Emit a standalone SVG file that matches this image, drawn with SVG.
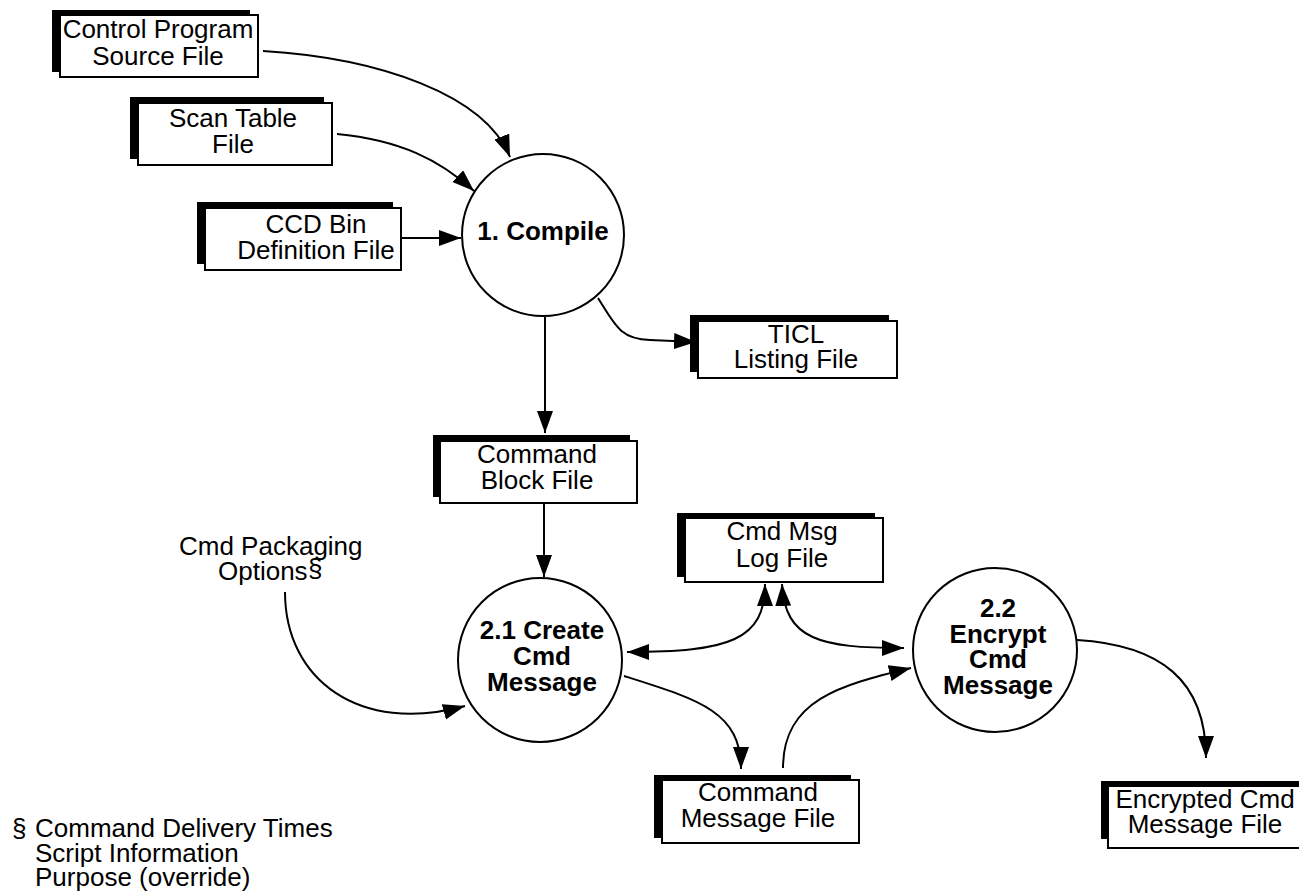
<svg xmlns="http://www.w3.org/2000/svg" width="1299" height="896" viewBox="0 0 1299 896">
<style>
  text { font-family: "Liberation Sans", Arial, sans-serif; font-size: 26px; fill: #000; }
  .c { text-anchor: middle; }
  .b { font-weight: bold; }
  .shadow { fill: #000; stroke: none; }
  .front { fill: #fff; stroke: #000; stroke-width: 2; }
  .proc { fill: #fff; stroke: #000; stroke-width: 2; }
  .flow { fill: none; stroke: #000; stroke-width: 2; }
</style>
<defs>
  <marker id="arr" markerUnits="userSpaceOnUse" markerWidth="24" markerHeight="18" refX="22" refY="8" orient="auto-start-reverse">
    <path d="M0,0 L22,8 L0,16 z" fill="#000"/>
  </marker>
</defs>
<rect width="1299" height="896" fill="#fff"/>

<g id="connectors">
  <path class="flow" d="M263,51 C380,58 485,95 510,157" marker-end="url(#arr)"/>
  <path class="flow" d="M337,134 C400,140 440,160 474,191" marker-end="url(#arr)"/>
  <path class="flow" d="M401,238 L461,238" marker-end="url(#arr)"/>
  <path class="flow" d="M598,298 C615,325 620,339 650,340 L696,342" marker-end="url(#arr)"/>
  <path class="flow" d="M545,317 L545,433" marker-end="url(#arr)"/>
  <path class="flow" d="M544,504 L544,577" marker-end="url(#arr)"/>
  <path class="flow" d="M285,592 C285,680 360,735 465,706" marker-end="url(#arr)"/>
  <path class="flow" d="M627,652 C730,652 765,640 765,584" marker-start="url(#arr)" marker-end="url(#arr)"/>
  <path class="flow" d="M782,584 C785,640 820,648 904,648" marker-start="url(#arr)" marker-end="url(#arr)"/>
  <path class="flow" d="M624,676 C700,700 741,712 741,769" marker-end="url(#arr)"/>
  <path class="flow" d="M783,768 C783,700 840,685 911,668" marker-end="url(#arr)"/>
  <path class="flow" d="M1077,640 C1160,645 1206,680 1206,758" marker-end="url(#arr)"/>
</g>

<g id="control-program-source-file">
  <rect class="shadow" x="52" y="10" width="198" height="62"/>
  <rect class="front" x="60" y="15" width="198" height="62"/>
  <text class="c" x="158" y="38">Control Program</text>
  <text class="c" x="158" y="65">Source File</text>
</g>

<g id="scan-table-file">
  <rect class="shadow" x="130" y="97" width="194" height="62"/>
  <rect class="front" x="138" y="103" width="194" height="62"/>
  <text class="c" x="233" y="127">Scan Table</text>
  <text class="c" x="233" y="153">File</text>
</g>

<g id="ccd-bin-definition-file">
  <rect class="shadow" x="197" y="202" width="196" height="62"/>
  <rect class="front" x="205" y="208" width="196" height="62"/>
  <text class="c" x="316" y="233">CCD Bin</text>
  <text class="c" x="316" y="259">Definition File</text>
</g>

<g id="compile">
  <circle class="proc" cx="543" cy="235" r="81"/>
  <text class="c b" x="543" y="240">1. Compile</text>
</g>

<g id="ticl-listing-file">
  <rect class="shadow" x="690" y="315" width="199" height="57"/>
  <rect class="front" x="698" y="321" width="199" height="57"/>
  <text class="c" x="796" y="343">TICL</text>
  <text class="c" x="796" y="368">Listing File</text>
</g>

<g id="command-block-file">
  <rect class="shadow" x="433" y="435" width="197" height="62"/>
  <rect class="front" x="440" y="441" width="197" height="62"/>
  <text class="c" x="537" y="463">Command</text>
  <text class="c" x="537" y="489">Block File</text>
</g>

<g id="cmd-msg-log-file">
  <rect class="shadow" x="677" y="513" width="198" height="64"/>
  <rect class="front" x="685" y="518" width="198" height="64"/>
  <text class="c" x="782" y="540">Cmd Msg</text>
  <text class="c" x="782" y="567">Log File</text>
</g>

<g id="cmd-packaging-options">
  <text x="179" y="555">Cmd Packaging</text>
  <text x="218" y="580">Options</text>
  <text x="308" y="577">§</text>
</g>

<g id="create-cmd-message">
  <circle class="proc" cx="540" cy="660" r="82"/>
  <text class="c b" x="542" y="639">2.1 Create</text>
  <text class="c b" x="542" y="665">Cmd</text>
  <text class="c b" x="542" y="691">Message</text>
</g>

<g id="encrypt-cmd-message">
  <circle class="proc" cx="995" cy="650" r="82"/>
  <text class="c b" x="998" y="617">2.2</text>
  <text class="c b" x="998" y="643">Encrypt</text>
  <text class="c b" x="998" y="668">Cmd</text>
  <text class="c b" x="998" y="694">Message</text>
</g>

<g id="command-message-file">
  <rect class="shadow" x="654" y="775" width="197" height="63"/>
  <rect class="front" x="662" y="780" width="197" height="63"/>
  <text class="c" x="758" y="801">Command</text>
  <text class="c" x="758" y="827">Message File</text>
</g>

<g id="encrypted-cmd-message-file">
  <rect class="shadow" x="1101" y="781" width="200" height="58"/>
  <rect class="front" x="1108" y="786" width="200" height="62"/>
  <text class="c" x="1205" y="808">Encrypted Cmd</text>
  <text class="c" x="1205" y="833">Message File</text>
</g>

<g id="footnote">
  <text x="12" y="837">§</text>
  <text x="35" y="837">Command Delivery Times</text>
  <text x="35" y="862">Script Information</text>
  <text x="35" y="886">Purpose (override)</text>
</g>
</svg>
